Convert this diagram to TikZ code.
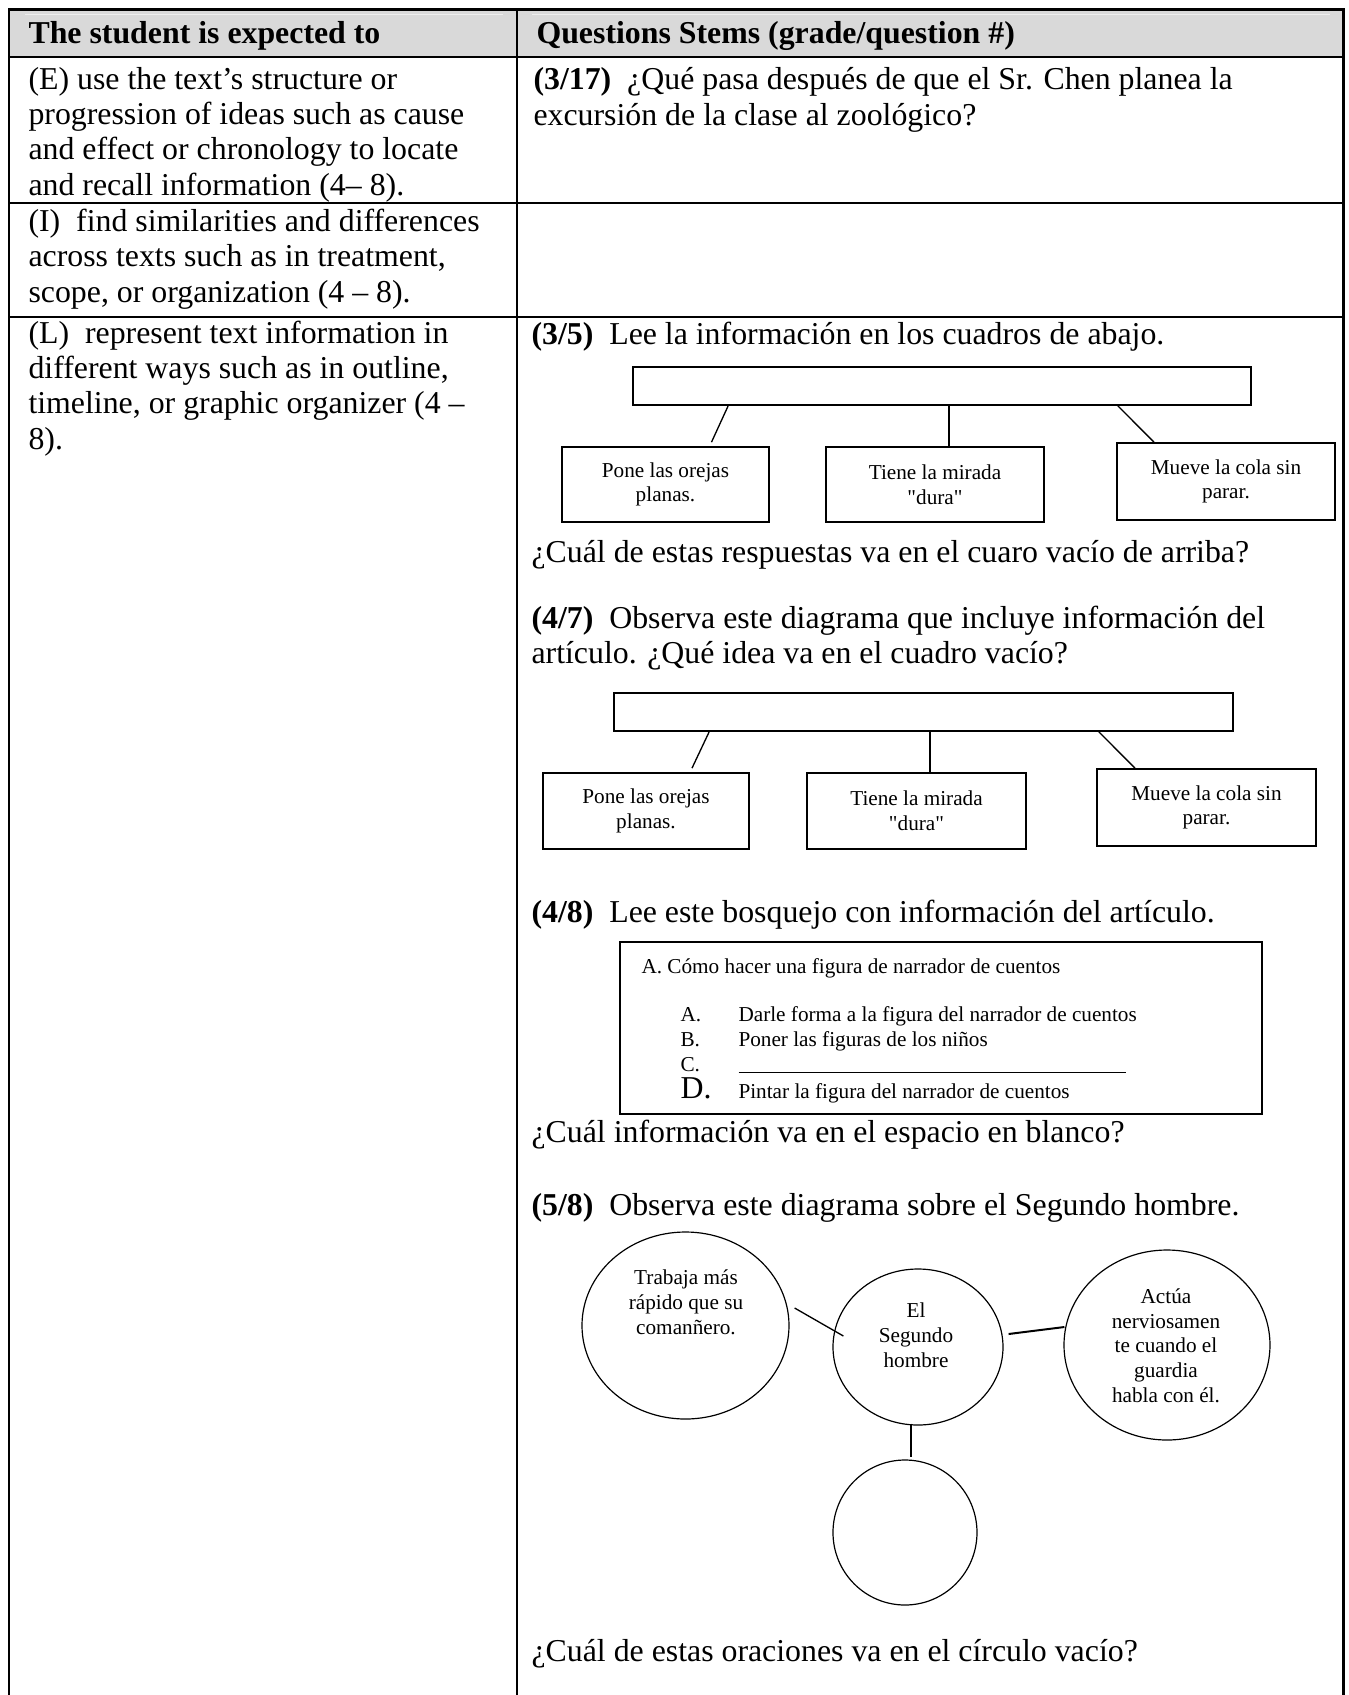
\documentclass[tikz,border=0pt]{standalone}
\usepackage{fontspec}
\setmainfont{Liberation Serif}[Ligatures=TeXOff]
\usepackage{tikz}
\usetikzlibrary{
  calc,
  positioning,
  shapes.geometric,
}
\newcommand{\pxl}{0.377pt}
\definecolor{cabecera}{RGB}{217,217,217}
\definecolor{brillo}{RGB}{238,238,238}
\tikzstyle{texto} = [
  anchor=base west,
  inner sep=0pt,
  align=left,
  font=\fontsize{12}{13.2}\selectfont,
]
\tikzstyle{titulo} = [texto, font=\fontsize{12}{13.2}\selectfont\bfseries]
\tikzstyle{lista} = [anchor=base west, inner sep=0pt, font=\fontsize{8}{9.3}\selectfont]
\tikzstyle{chico} = [inner sep=0pt, align=center, font=\fontsize{8}{9.3}\selectfont]
\tikzstyle{cuadro} = [
  draw,
  rectangle,
  line width=0.65pt,
  inner sep=0pt,
  align=center,
  font=\fontsize{8}{9.3}\selectfont,
]
\tikzstyle{globo} = [draw, ellipse, line width=0.45pt, inner sep=0pt]
\tikzstyle{linea} = [line width=0.5pt]

\begin{document}
\begin{tikzpicture}[x=0.377pt, y=-0.377pt]
    \useasboundingbox (0,0) rectangle (1349,1695);
    % table
    \fill[cabecera] (10,10) rectangle (1342,56);
    \draw[brillo, line width=0.4pt] (25,14.5) -- (503,14.5) (532,14.5) -- (1330,14.5);
    \draw[line width=0.75pt] (9,57) -- (1343,57) (9,203) -- (1343,203) (9,317) -- (1343,317) (517,9) -- (517,1695);
    \draw[line width=1.13pt] (9,1695) -- (9,9) -- (1343,9) -- (1343,1695);

    \node[titulo] (h0) at (28,43) {The student is expected to};
    \node[titulo] (h1) at (536,43) {Questions Stems (grade/question \#)};

    % multi-line texts sit on the baseline of their last line
    \node[texto] (e0) at (28,195) {(E) use the text’s structure or\\progression of ideas such as cause\\and effect or chronology to locate\\and recall information (4– 8).};
    \node[texto] (i0) at (28,302) {(I)\ \ find similarities and differences\\across texts such as in treatment,\\scope, or organization (4 – 8).};
    \node[texto] (l0) at (28,449) {(L)\ \ represent text information in\\different ways such as in outline,\\timeline, or graphic organizer (4 –\\8).};

    \node[texto] (q1) at (533,125) {\textbf{(3/17)}\ \ ¿Qué pasa después de que el Sr. Chen planea la\\excursión de la clase al zoológico?};

    % (3/5)
    \node[texto] (q2) at (531,344) {\textbf{(3/5)}\ \ Lee la información en los cuadros de abajo.};
    \node[cuadro, minimum width=618*\pxl, minimum height=38*\pxl] (c1) at (942,386) {};
    \node[cuadro, minimum width=207*\pxl, minimum height=75*\pxl] (c1a) at (665.5,484.5) {Pone las orejas\\planas.};
    \node[cuadro, minimum width=218*\pxl, minimum height=75*\pxl] (c1b) at (935,484.5) {Tiene la mirada\\"dura"};
    \node[cuadro, minimum width=218*\pxl, minimum height=77*\pxl] (c1c) at (1226,481.5) {Mueve la cola sin\\parar.};
    \draw[linea] ($(c1.south west)+(96,0)$) -- ($(c1a.north)+(46,-4)$);
    \draw[linea] ($(c1.south)+(7,0)$) -- ($(c1b.north)+(14,0)$);
    \draw[linea] ($(c1.south east)+(-134,0)$) -- ($(c1c.north)+(-72,0)$);
    \node[texto] (q3) at (531,562) {¿Cuál de estas respuestas va en el cuaro vacío de arriba?};

    % (4/7)
    \node[texto] (q4) at (531,663) {\textbf{(4/7)}\ \ Observa este diagrama que incluye información del\\artículo. ¿Qué idea va en el cuadro vacío?};
    \node[cuadro, minimum width=619*\pxl, minimum height=38*\pxl] (c2) at (923.5,712) {};
    \node[cuadro, minimum width=206*\pxl, minimum height=76*\pxl] (c2a) at (646,811) {Pone las orejas\\planas.};
    \node[cuadro, minimum width=219*\pxl, minimum height=76*\pxl] (c2b) at (916.5,811) {Tiene la mirada\\"dura"};
    \node[cuadro, minimum width=219*\pxl, minimum height=77*\pxl] (c2c) at (1206.5,807.5) {Mueve la cola sin\\parar.};
    \draw[linea] ($(c2.south west)+(96,0)$) -- ($(c2a.north)+(46,-4)$);
    \draw[linea] ($(c2.south)+(6.5,0)$) -- ($(c2b.north)+(13.5,0)$);
    \draw[linea] ($(c2.south east)+(-135,0)$) -- ($(c2c.north)+(-71.5,0)$);

    % (4/8)
    \node[texto] (q5) at (531,922) {\textbf{(4/8)}\ \ Lee este bosquejo con información del artículo.};
    \node[draw, rectangle, line width=0.65pt, minimum width=642*\pxl, minimum height=172*\pxl] (b3) at (941,1028) {};
    \node[lista] (o0) at (641,973) {A. Cómo hacer una figura de narrador de cuentos};
    \node[lista] (oA) at (680,1021) {A.};
    \node[lista] (tA) at (738,1021) {Darle forma a la figura del narrador de cuentos};
    \node[lista] (oB) at (680,1046) {B.};
    \node[lista] (tB) at (738,1046) {Poner las figuras de los niños};
    \node[lista] (oC) at (680,1071) {C.};
    \node[lista] (tC) at (738,1071) {\rule[-0.8pt]{146pt}{0.4pt}};
    \node[lista, font=\fontsize{12}{13.2}\selectfont] (oD) at (680,1098) {D.};
    \node[lista] (tD) at (738,1098) {Pintar la figura del narrador de cuentos};
    \node[texto] (q6) at (531,1142) {¿Cuál información va en el espacio en blanco?};

    % (5/8)
    \node[texto] (q7) at (531,1215) {\textbf{(5/8)}\ \ Observa este diagrama sobre el Segundo hombre.};
    \node[globo, minimum width=207*\pxl, minimum height=187*\pxl] (g1) at (685.5,1325.5) {};
    \node[globo, minimum width=170*\pxl, minimum height=156*\pxl] (g2) at (918,1347) {};
    \node[globo, minimum width=206*\pxl, minimum height=190*\pxl] (g3) at (1167,1345) {};
    \node[globo, minimum width=144*\pxl, minimum height=145*\pxl] (g4) at (905,1532.5) {};
    \node[chico, anchor=base] (g1t) at (686,1334) {Trabaja más\\rápido que su\\comanñero.};
    \node[chico, anchor=base] (g2t) at (916,1367) {El\\Segundo\\hombre};
    \node[chico, anchor=base] (g3t) at (1166,1402) {Actúa\\nerviosamen\\te cuando el\\guardia\\habla con él.};
    \draw[linea] ($(g1.east)+(5,-17.5)$) -- ($(g2.west)+(11,-11)$);
    \draw[linea, line width=0.75pt] ($(g2.east)+(5,-13)$) -- ($(g3.west)+(1,-18)$);
    \draw[linea] ($(g2.south)+(-7,-2)$) -- ($(g4.north)+(6,-2)$);
    \node[texto] (q8) at (531,1661) {¿Cuál de estas oraciones va en el círculo vacío?};
\end{tikzpicture}
\end{document}
